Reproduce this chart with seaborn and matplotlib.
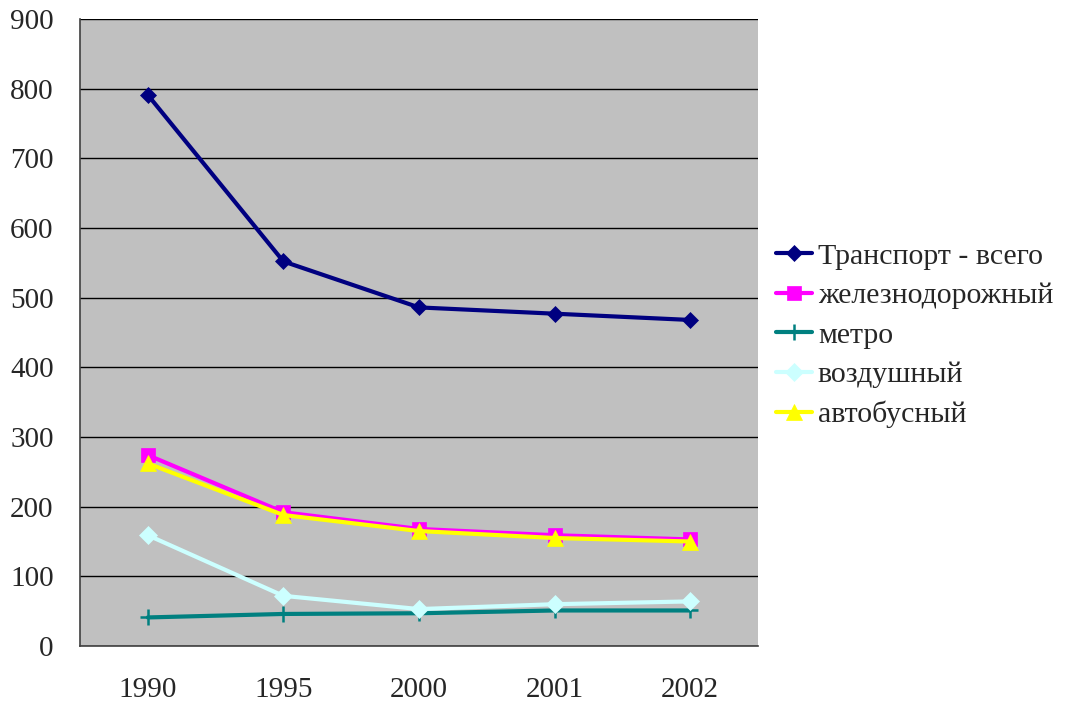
import matplotlib
matplotlib.use("Agg")
import matplotlib.pyplot as plt
import seaborn as sns
import pandas as pd

years = ["1990", "1995", "2000", "2001", "2002"]
total = [791, 552, 486, 477, 468]
rail = [274, 192, 168, 159, 153]
metro = [41, 46, 47, 51, 51]
air = [159, 72, 53, 60, 64]
bus = [262, 188, 165, 155, 150]

series_names = ["Транспорт - всего", "железнодорожный", "метро", "воздушный", "автобусный"]
series_values = [total, rail, metro, air, bus]
colors = ["#000080", "#FF00FF", "#008080", "#CCFFFF", "#FFFF00"]
markers = ["D", "s", "+", "D", "^"]
msizes = [8, 10, 12, 9, 11]

sns.set_style("white")
plt.rcParams['font.family'] = ['Liberation Serif', 'DejaVu Serif']

rows = []
for name, vals in zip(series_names, series_values):
    for i, v in enumerate(vals):
        rows.append({"pos": i, "year": years[i], "value": v, "series": name})
df = pd.DataFrame(rows)

fig = plt.figure(figsize=(10.66, 7.04), dpi=100)
ax = fig.add_axes([80 / 1066, 1 - 646 / 704, (758 - 80) / 1066, (646 - 19) / 704])
ax.set_facecolor("#C0C0C0")

for name, col, mk, ms in zip(series_names, colors, markers, msizes):
    sub = df[df["series"] == name]
    sns.lineplot(data=sub, x="pos", y="value", ax=ax, color=col, linewidth=3.0,
                 marker=mk, markersize=ms, markeredgecolor=col, markerfacecolor=col,
                 markeredgewidth=1.8 if mk == "+" else 0.5, label=name, legend=False,
                 zorder=3)

ax.set_xlim(-0.5, len(years) - 0.5)
ax.set_ylim(0, 900)
ax.set_yticks(range(0, 901, 100))
ax.yaxis.grid(True, color="black", linewidth=1.0)
ax.set_axisbelow(True)
ax.tick_params(axis="y", labelsize=21, length=9, width=1, color="black", direction="out", pad=10)

ax.set_xticks([i - 0.5 for i in range(len(years) + 1)])
ax.set_xticklabels([])
ax.set_xticks(range(len(years)), minor=True)
ax.set_xticklabels(years, minor=True)
ax.tick_params(axis="x", which="major", length=9, width=1, color="black", direction="out")
ax.tick_params(axis="x", which="minor", length=0, labelsize=21, pad=22)
ax.set_xlabel("")
ax.set_ylabel("")

for s in ["top", "right"]:
    ax.spines[s].set_visible(False)
for s in ["left", "bottom"]:
    ax.spines[s].set_color("#404040")
    ax.spines[s].set_linewidth(1.2)

h, l = ax.get_legend_handles_labels()
fig.legend(h, l, loc="upper left", bbox_to_anchor=(776 / 1066, 1 - 243 / 704),
           frameon=False, fontsize=21.5, handlelength=1.2, handletextpad=0.2,
           labelspacing=0.42, borderaxespad=0, borderpad=0)

fig.savefig("out.png", dpi=100, facecolor="white")
